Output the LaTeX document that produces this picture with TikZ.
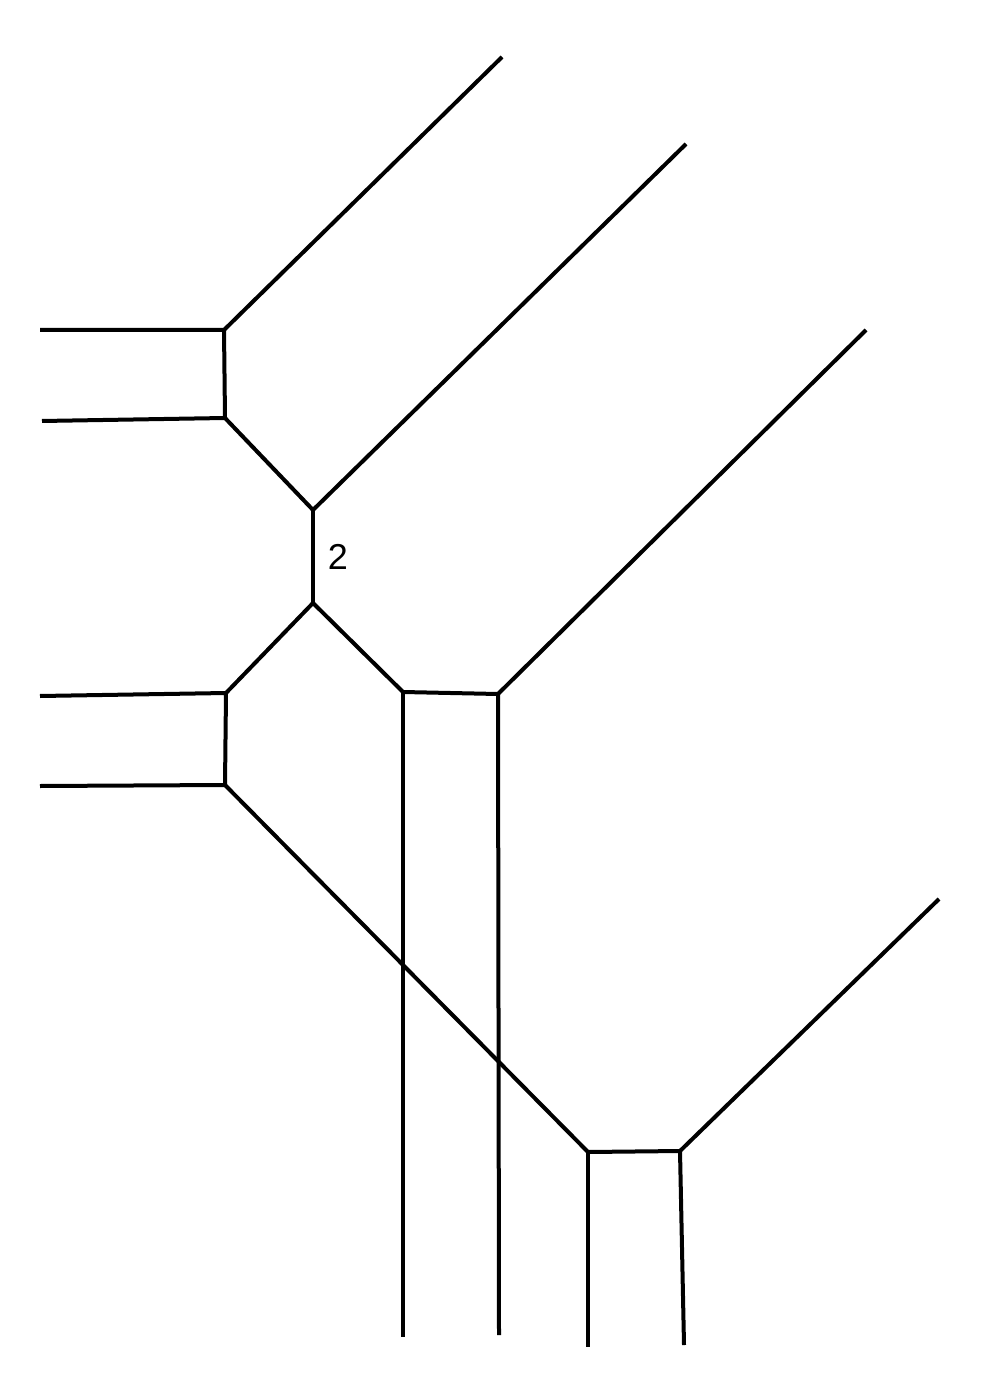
\documentclass[tikz,border=0pt]{standalone}
\usepackage{fontspec}
\setmainfont{Liberation Sans}
\begin{document}
\begin{tikzpicture}[x=0.5pt,y=-0.5pt,
  edge/.style={line width=2pt,line cap=butt,line join=miter},
  lbl/.style={font=\fontsize{18}{20}\selectfont,inner sep=0pt}]
\useasboundingbox (0,0) rectangle (1000,1400);
% vertices
\coordinate (A) at (224,330);
\coordinate (B) at (225,418);
\coordinate (C) at (313,510);
\coordinate (D) at (313,603);
\coordinate (E) at (226,693);
\coordinate (G) at (225,785);
\coordinate (F) at (403,692);
\coordinate (I) at (498,694);
\coordinate (H) at (588,1152);
\coordinate (J) at (680,1151);
% free ends
\coordinate (a1) at (40,330);
\coordinate (a2) at (502,57);
\coordinate (b1) at (42,421);
\coordinate (c1) at (686,144);
\coordinate (e1) at (40,696);
\coordinate (g1) at (40,786);
\coordinate (f1) at (403,1337);
\coordinate (i1) at (866,330);
\coordinate (i2) at (499,1335);
\coordinate (h1) at (588,1347);
\coordinate (j1) at (939,899);
\coordinate (j2) at (684,1345);
% edges
\draw[edge] (a1) -- (A) -- (a2);
\draw[edge] (A) -- (B);
\draw[edge] (b1) -- (B) -- (C) -- (c1);
\draw[edge] (C) -- (D);
\draw[edge] (E) -- (D) -- (F);
\draw[edge] (e1) -- (E) -- (G) -- (g1);
\draw[edge] (G) -- (H);
\draw[edge] (F) -- (I) -- (i1);
\draw[edge] (F) -- (f1);
\draw[edge] (I) -- (i2);
\draw[edge] (H) -- (J) -- (j1);
\draw[edge] (H) -- (h1);
\draw[edge] (J) -- (j2);
\node[lbl] (l2) at (338,557) {2};
\end{tikzpicture}
\end{document}
